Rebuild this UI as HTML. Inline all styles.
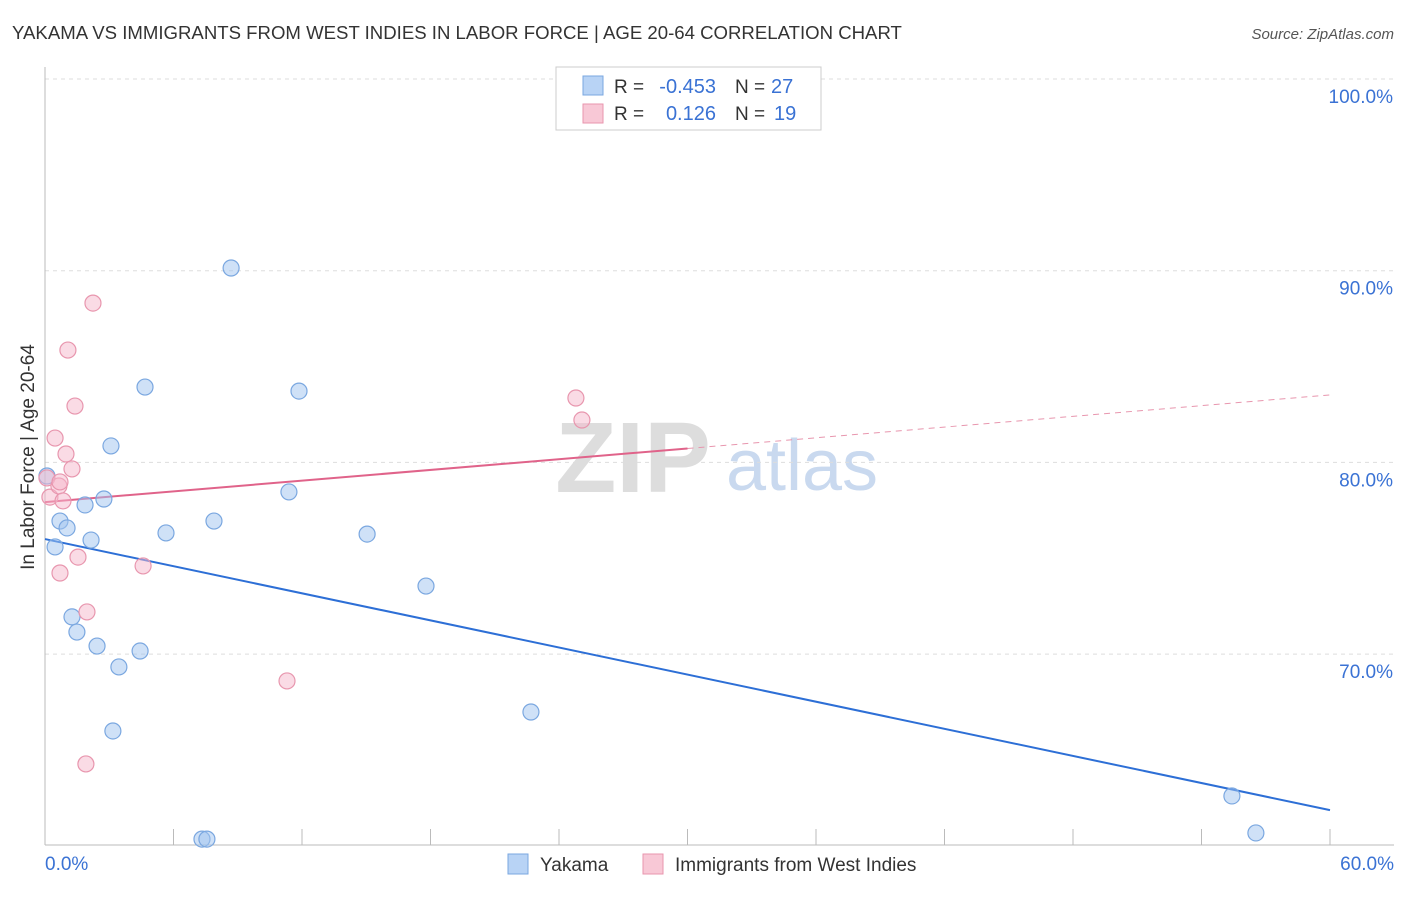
<!DOCTYPE html>
<html><head><meta charset="utf-8"><style>
body{margin:0;background:#fff;font-family:"Liberation Sans",sans-serif;}
svg text{font-family:"Liberation Sans",sans-serif;}
</style></head><body>
<svg id="chart" width="1406" height="892">
<text x="12" y="39" font-size="18.6" fill="#333">YAKAMA VS IMMIGRANTS FROM WEST INDIES IN LABOR FORCE | AGE 20-64 CORRELATION CHART</text>
<text x="1394" y="39" font-size="15" fill="#555" font-style="italic" text-anchor="end">Source: ZipAtlas.com</text>
<text transform="translate(34,457) rotate(-90)" font-size="19" fill="#333" text-anchor="middle">In Labor Force | Age 20-64</text>
<g id="watermark">
<text x="633" y="492" font-size="100" fill="#ddd" text-anchor="middle" font-family="Liberation Serif" font-weight="bold">ZIP</text>
<text x="802" y="490" font-size="72" fill="#c9d9ef" text-anchor="middle">atlas</text>
</g>
<g id="grid"></g><g id="axes"></g><g id="lines"></g><g id="points"></g>
<g>
<rect x="556" y="67" width="265" height="63" fill="#fff" stroke="#ccc"/>
<rect x="583" y="76" width="20" height="19" fill="#b8d3f5" stroke="#7aa7e0"/>
<rect x="583" y="104" width="20" height="19" fill="#f8c8d6" stroke="#e896ae"/>
<text x="614" y="93" font-size="19" fill="#333">R =</text>
<text x="716" y="93" font-size="20" fill="#3a72d4" text-anchor="end">-0.453</text>
<text x="735" y="93" font-size="19" fill="#333">N =</text>
<text x="771" y="93" font-size="20" fill="#3a72d4">27</text>
<text x="614" y="120" font-size="19" fill="#333">R =</text>
<text x="716" y="120" font-size="20" fill="#3a72d4" text-anchor="end">0.126</text>
<text x="735" y="120" font-size="19" fill="#333">N =</text>
<text x="774" y="120" font-size="20" fill="#3a72d4">19</text>
</g>
<g>
<rect x="508" y="854" width="20" height="20" fill="#b8d3f5" stroke="#7aa7e0"/>
<text x="540" y="871" font-size="19" fill="#333">Yakama</text>
<rect x="643" y="854" width="20" height="20" fill="#f8c8d6" stroke="#e896ae"/>
<text x="675" y="871" font-size="19" fill="#333">Immigrants from West Indies</text>
</g>
</svg>
<script>
const yTicks=[100,90,80,70];
const xTickLabels=["0.0%","60.0%"];
const blueX=[0.09,0.47,0.70,1.03,1.26,1.49,1.87,2.15,2.43,2.75,3.08,3.17,3.45,4.44,4.67,5.65,7.33,7.56,7.89,8.69,11.39,11.86,15.04,17.79,22.69,55.42,56.54];
const blueY=[79.29,75.59,76.94,76.58,71.94,71.15,77.78,75.95,70.42,78.09,80.86,65.99,69.33,70.16,83.93,76.32,60.35,60.35,76.94,90.14,78.46,83.72,76.26,73.55,66.98,62.60,60.67];
const pinkX=[0.09,0.23,0.47,0.65,0.70,0.70,0.84,0.98,1.07,1.26,1.40,1.54,1.91,1.96,2.24,4.58,11.30,24.79,25.07];
const pinkY=[79.19,78.19,81.27,78.77,74.23,78.98,77.99,80.44,85.86,79.66,82.94,75.06,64.27,72.20,88.31,74.60,68.60,83.36,82.21];
const blueTrend=[76.0,61.86];
const pinkTrend=[77.93,83.52];
const pinkSolidEnd=30;
const NS="http://www.w3.org/2000/svg";
const X=v=>45+v/60*1285;
const Y=v=>79+(100-v)*19.17;
function mk(tag,attrs,parent){const e=document.createElementNS(NS,tag);for(const k in attrs)e.setAttribute(k,attrs[k]);document.getElementById(parent).appendChild(e);return e;}
yTicks.forEach(t=>{
 const l=mk('line',{x1:45,x2:1394,y1:Y(t),y2:Y(t),stroke:'#ddd','stroke-dasharray':'4,4'},'grid');
 
 
 const tx=mk('text',{x:1393,y:Y(t)+24,'font-size':19,fill:'#3a72d4','text-anchor':'end'},'grid');
 tx.textContent=t.toFixed(1)+'%';
 
 
});
const ax=mk('line',{x1:45,x2:45,y1:67,y2:845,stroke:'#bbb'},'axes');


const bx=mk('line',{x1:45,x2:1394,y1:845,y2:845,stroke:'#bbb'},'axes');


for(let i=0;i<=10;i++){const t=mk('line',{x1:X(i*6),x2:X(i*6),y1:829,y2:845,stroke:'#bbb'},'axes');
 
 }
[[0,'start',45],[60,'end',1394]].forEach((d,i)=>{const t=mk('text',{x:d[2],y:870,'font-size':19,fill:'#3a72d4','text-anchor':d[1]},'axes');t.textContent=xTickLabels[i];
 
 });
const lb=mk('line',{x1:X(0),y1:Y(blueTrend[0]),x2:X(60),y2:Y(blueTrend[1]),stroke:'#2d6fd6','stroke-width':2},'lines');


const pm=pinkTrend[0]+(pinkTrend[1]-pinkTrend[0])*pinkSolidEnd/60;
const lp=mk('line',{x1:X(0),y1:Y(pinkTrend[0]),x2:X(pinkSolidEnd),y2:Y(pm),stroke:'#e0638a','stroke-width':2},'lines');


const lpd=mk('line',{x1:X(pinkSolidEnd),y1:Y(pm),x2:X(60),y2:Y(pinkTrend[1]),stroke:'#e896ae','stroke-width':1,'stroke-dasharray':'6,5'},'lines');


blueX.forEach((x,i)=>{const c=mk('circle',{cx:X(x),cy:Y(blueY[i]),r:8,fill:'rgba(160,196,240,0.5)',stroke:'#7aa7e0','stroke-width':1.2},'points');
 
 });
pinkX.forEach((x,i)=>{const c=mk('circle',{cx:X(x),cy:Y(pinkY[i]),r:8,fill:'rgba(246,184,204,0.5)',stroke:'#e896ae','stroke-width':1.2},'points');
 
 });
</script>
</body></html>
